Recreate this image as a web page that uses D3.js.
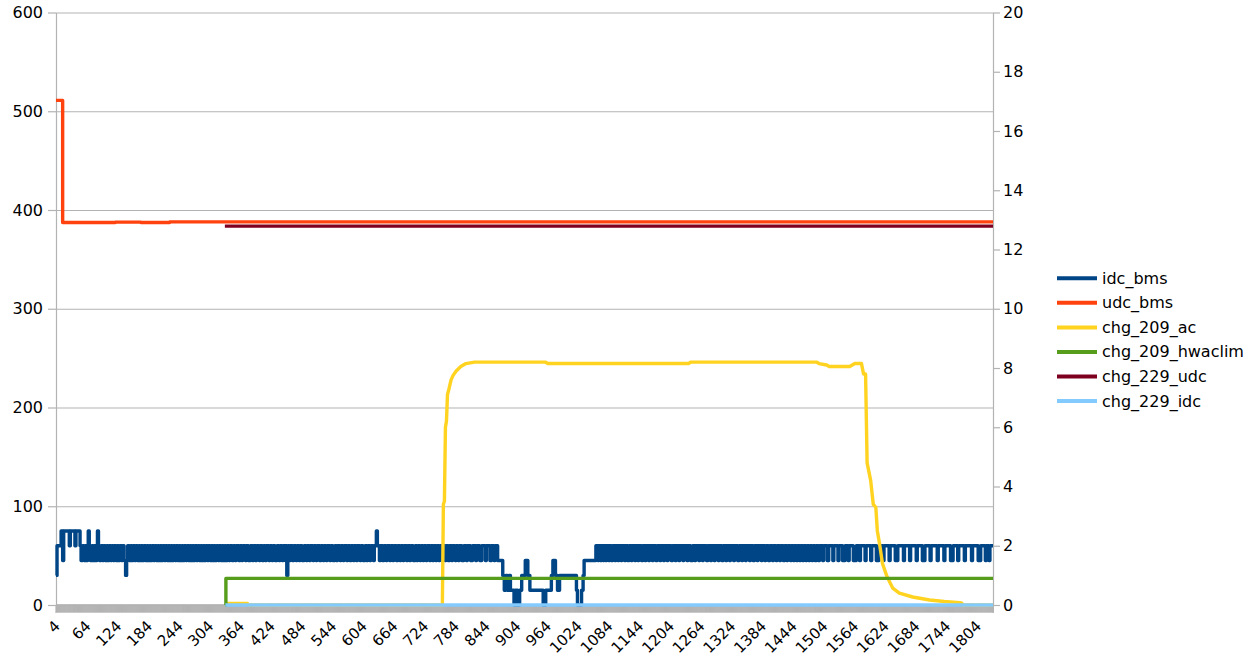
<!DOCTYPE html>
<html><head><meta charset="utf-8">
<script src="https://cdn.jsdelivr.net/npm/d3@7"></script>
<style>
html,body{margin:0;padding:0;background:#fff;}
svg{display:block;font-family:"DejaVu Sans",sans-serif;}
</style></head>
<body>
<svg id="chart" width="1248" height="666"></svg>
<script>
// ---------- DATA ----------
const seriesNames = ["idc_bms","udc_bms","chg_209_ac","chg_209_hwaclim","chg_229_udc","chg_229_idc"];
const seriesColors = ["#004586","#ff420e","#ffd320","#579d1c","#7e0021","#83caff"];
const catFirst = 4, catLast = 1835;
const xTickLabels = [4,64,124,184,244,304,364,424,484,544,604,664,724,784,844,904,964,1024,1084,1144,1204,1264,1324,1384,1444,1504,1564,1624,1684,1744,1804];
const leftTicks = [0,100,200,300,400,500,600];
const rightTicks = [0,2,4,6,8,10,12,14,16,18,20];

// idc_bms (right axis) – step breakpoints [category, value]
const idcBmsSteps = [
 [4,1.0],[6,2.0],[14,2.5],[17,1.5],[19,2.5],[30,2.0],[32,2.5],[41,2.0],[43,2.5],[51,2.0],[53,1.5],[56,2.0],[59,1.5],[61,2.0],[63,1.5],[66,2.0],[67,2.5],[69,2.0],[71,1.5],[74,2.0],[76,1.5],[79,2.0],[81,1.5],[84,2.0],[85,2.5],[87,2.0],[89,1.5],[92,2.0],
 [95,1.5],[97,2.0],[100,1.5],[103,2.0],[105,1.5],[108,2.0],[111,1.5],[113,2.0],[116,1.5],[118,2.0],[121,1.5],[124,2.0],[126,1.5],[129,2.0],[132,1.5],[134,2.0],[137,1.5],[140,1.0],[142,1.5],[144,2.0],[147,1.5],[150,2.0],[152,1.5],[155,2.0],[158,1.5],[160,2.0],[163,1.5],[166,2.0],[168,1.5],[171,2.0],[173,1.5],[176,2.0],[179,1.5],[182,2.0],[184,1.5],[187,2.0],[189,1.5],[192,2.0],[195,1.5],[197,2.0],[200,1.5],[203,2.0],[205,1.5],[208,2.0],[210,1.5],[213,2.0],[216,1.5],[218,2.0],[221,1.5],[224,2.0],[226,1.5],[229,2.0],[231,1.5],[234,2.0],[237,1.5],[239,2.0],[242,1.5],[245,2.0],[247,1.5],[250,2.0],[252,1.5],[255,2.0],[258,1.5],[260,2.0],[263,1.5],[266,2.0],[268,1.5],[271,2.0],[273,1.5],[276,2.0],[279,1.5],[281,2.0],[284,1.5],[287,2.0],[289,1.5],[292,2.0],[294,1.5],[297,2.0],[300,1.5],[302,2.0],[305,1.5],[308,2.0],[310,1.5],[313,2.0],[315,1.5],[318,2.0],[321,1.5],[323,2.0],[326,1.5],[329,2.0],[331,1.5],[334,2.0],[336,1.5],[339,2.0],
 [455,1.0],[457,2.0],[630,2.5],[632,2.0],
 [867,1.5],[877,1.0],[880,0.5],[883,1.0],[886,0.5],[889,1.0],[892,0.5],[899,0.0],[902,0.5],[906,0.0],[910,0.5],[914,1.0],[921,1.5],[926,1.0],[930,0.5],[956,0.0],[961,0.5],[972,1.0],[975,1.5],[980,1.0],[984,0.5],[988,1.0],[1021,0.5],[1023,0.0],[1031,0.5],[1034,1.0],[1036,1.5],[1059,2.0]
];
// idc_bms short dips from 2.0 down to 1.5 : [start, end]
const idcBmsDips = [
 [342,344],[348,351],[354,356],[361,364],[367,369],[374,376],[380,384],[388,390],[394,396],[401,403],[407,410],[413,415],[420,422],[426,428],[432,436],[440,442],[446,448],[452,453],[460,462],[466,469],[473,475],[479,481],[485,489],[493,495],[499,501],[506,508],[512,514],[519,522],[526,528],[532,534],[539,541],[545,549],[552,554],[559,561],[565,567],[572,574],[578,581],[585,587],[591,593],[598,600],[604,608],[611,613],[617,619],[624,626],[636,638],[642,645],[649,651],[656,658],[662,664],[669,672],[676,678],[682,684],[689,691],[695,697],[702,706],[709,711],[715,717],[721,723],[727,729],[734,736],[740,742],[746,748],[752,754],[758,760],[764,766],[770,773],[777,779],[784,786],[790,792],[797,801],[806,808],[814,818],[824,826],[832,836],[843,845],[852,855],[860,862],
 [1063,1065],[1068,1070],[1073,1075],[1078,1080],[1084,1086],[1089,1092],[1096,1098],[1102,1104],[1108,1110],[1115,1117],[1121,1124],[1128,1130],[1135,1137],[1141,1143],[1148,1151],[1155,1157],[1162,1164],[1169,1171],[1176,1179],[1184,1186],[1191,1193],[1198,1200],[1206,1209],[1214,1216],[1221,1223],[1229,1231],[1237,1239],[1244,1248],[1252,1254],[1260,1262],[1267,1269],[1275,1278],[1283,1285],[1290,1292],[1298,1300],[1305,1308],[1313,1315],[1320,1322],[1328,1330],[1336,1339],[1344,1346],[1351,1353],[1359,1361],[1366,1369],[1374,1376],[1382,1384],[1389,1391],[1396,1399],[1404,1406],[1411,1413],[1418,1420],[1425,1428],[1432,1434],[1439,1441],[1445,1447],[1451,1453],[1457,1459],[1463,1465],[1469,1471],[1475,1477],[1481,1483],[1487,1490],[1494,1496],[1502,1504],[1511,1514],[1522,1524],[1532,1534],[1541,1546],[1552,1554],[1562,1568],[1574,1576],[1585,1587],[1596,1598],[1607,1612],[1620,1622],[1632,1634],[1644,1649],[1660,1662],[1672,1674],[1685,1687],[1697,1702],[1712,1714],[1726,1728],[1739,1741],[1752,1757],[1766,1768],[1779,1781],[1793,1795],[1806,1811],[1820,1822],[1827,1829]
];
// udc_bms (left axis)
const udcBmsSteps = [[4,511],[17,387.4],[120,387.7],[170,387.4],[226,388],[1835,388]];
// chg_209_ac (right axis) – points joined by straight lines
const chg209AcPoints = [
 [337,0.05],[378,0.05],[380,0],[759,0],[761,3.4],[763,3.5],[765,6.0],[767,6.2],[769,7.1],[772,7.3],[776,7.6],[780,7.75],[786,7.9],[795,8.05],[805,8.15],[822,8.2],[960,8.2],[965,8.15],[1240,8.15],[1245,8.2],[1490,8.2],[1495,8.15],[1510,8.1],[1515,8.05],[1555,8.05],[1560,8.1],[1565,8.15],[1578,8.15],[1582,7.8],[1586,7.8],[1589,4.8],[1596,4.2],[1601,3.4],[1606,3.3],[1609,2.5],[1613,2.1],[1619,1.4],[1627,1.0],[1633,0.78],[1639,0.57],[1652,0.4],[1678,0.27],[1711,0.17],[1740,0.12],[1770,0.08],[1774,0.06],[1776,0],[1835,0]
];
// chg_209_hwaclim (right axis)
const chg209HwaclimSteps = [[335,0],[336,0.9],[1835,0.9]];
// chg_229_udc (left axis)
const chg229UdcSteps = [[334,383.7],[1835,383.7]];
// chg_229_idc (right axis)
const chg229IdcSteps = [[335,0],[1835,0]];

// ---------- CHART ----------
const svg = d3.select("#chart");
const plotL = 56, plotR = 993, plotT = 12.5, plotB = 605;
const grid = "#b3b3b3";

const x = d3.scaleLinear().domain([catFirst, catLast]).range([plotL, plotR]);
const yL = d3.scaleLinear().domain([0, 600]).range([plotB, plotT]);
const yR = d3.scaleLinear().domain([0, 20]).range([plotB, plotT]);

// horizontal grid
const gGrid = svg.append("g").attr("transform", `translate(${plotL},0)`)
  .call(d3.axisLeft(yL).tickValues(leftTicks).tickSize(-(plotR - plotL)).tickFormat(""));
gGrid.select(".domain").remove();
gGrid.selectAll("line").attr("stroke", grid).attr("stroke-width", 1.2);

// category tick band
const cats = d3.range(catFirst, catLast + 1);
const gX = svg.append("g").attr("transform", `translate(0,${plotB - 0.5})`)
  .call(d3.axisBottom(x).tickValues(cats).tickSize(8).tickSizeOuter(0).tickFormat(""));
gX.select(".domain").attr("stroke", grid);
gX.selectAll("line").attr("stroke", grid).attr("stroke-width", 1);

// left axis
const gL = svg.append("g").attr("transform", `translate(${plotL},0)`)
  .call(d3.axisLeft(yL).tickValues(leftTicks).tickSize(8).tickSizeOuter(0).tickPadding(5));
gL.select(".domain").attr("stroke", grid).attr("stroke-width", 1.2);
gL.selectAll("line").attr("stroke", grid).attr("stroke-width", 1.2);
gL.selectAll("text").attr("font-size", 16).attr("fill", "#000").attr("font-family", "DejaVu Sans");

// right axis
const gR = svg.append("g").attr("transform", `translate(${plotR},0)`)
  .call(d3.axisRight(yR).tickValues(rightTicks).tickSize(7).tickSizeOuter(0).tickPadding(3));
gR.select(".domain").attr("stroke", grid).attr("stroke-width", 1.2);
gR.selectAll("line").attr("stroke", grid).attr("stroke-width", 1.2);
gR.selectAll("text").attr("font-size", 16).attr("fill", "#000").attr("font-family", "DejaVu Sans");

// extend left/right axis lines through tick band
svg.append("line").attr("x1", plotL).attr("x2", plotL).attr("y1", plotB).attr("y2", plotB + 8).attr("stroke", grid).attr("stroke-width", 1.2);
svg.append("line").attr("x1", plotR).attr("x2", plotR).attr("y1", plotB).attr("y2", plotB + 8).attr("stroke", grid).attr("stroke-width", 1.2);

// x labels (rotated)
svg.append("g").selectAll("text").data(xTickLabels).join("text")
  .attr("transform", d => `translate(${x(d) - 3},619) rotate(-45)`)
  .attr("text-anchor", "end").attr("dy", "0.76em")
  .attr("font-size", 15).attr("fill", "#000")
  .text(d => d);

// build series
function withEnd(steps) {
  const s = steps.slice().sort((a, b) => a[0] - b[0]);
  const last = s[s.length - 1];
  if (last[0] < catLast) s.push([catLast, last[1]]);
  return s;
}
const idcAll = idcBmsSteps.slice();
idcBmsDips.forEach(([a, b]) => { idcAll.push([a, 1.5]); idcAll.push([b, 2.0]); });
const idcSeries = withEnd(idcAll);

const stepLine = (ys) => d3.line().x(d => x(d[0])).y(d => ys(d[1])).curve(d3.curveStepAfter);
const linLine = (ys) => d3.line().x(d => x(d[0])).y(d => ys(d[1]));

const series = [
  {data: idcSeries, gen: stepLine(yR)},
  {data: withEnd(udcBmsSteps), gen: stepLine(yL)},
  {data: chg209AcPoints, gen: linLine(yR)},
  {data: withEnd(chg209HwaclimSteps), gen: stepLine(yR)},
  {data: withEnd(chg229UdcSteps), gen: stepLine(yL)},
  {data: withEnd(chg229IdcSteps), gen: stepLine(yR)}
];
const gS = svg.append("g");
series.forEach((s, i) => {
  gS.append("path").attr("d", s.gen(s.data)).attr("fill", "none")
    .attr("stroke", seriesColors[i]).attr("stroke-width", 3.4)
    .attr("stroke-linejoin", "round");
});

// legend
const lg = svg.append("g");
seriesNames.forEach((n, i) => {
  const yy = 278.3 + i * 24.55;
  lg.append("line").attr("x1", 1057).attr("x2", 1097).attr("y1", yy).attr("y2", yy)
    .attr("stroke", seriesColors[i]).attr("stroke-width", 4);
  lg.append("text").attr("x", 1102).attr("y", yy + 5.5).attr("font-size", 16).attr("fill", "#000").text(n);
});
</script>
</body></html>
